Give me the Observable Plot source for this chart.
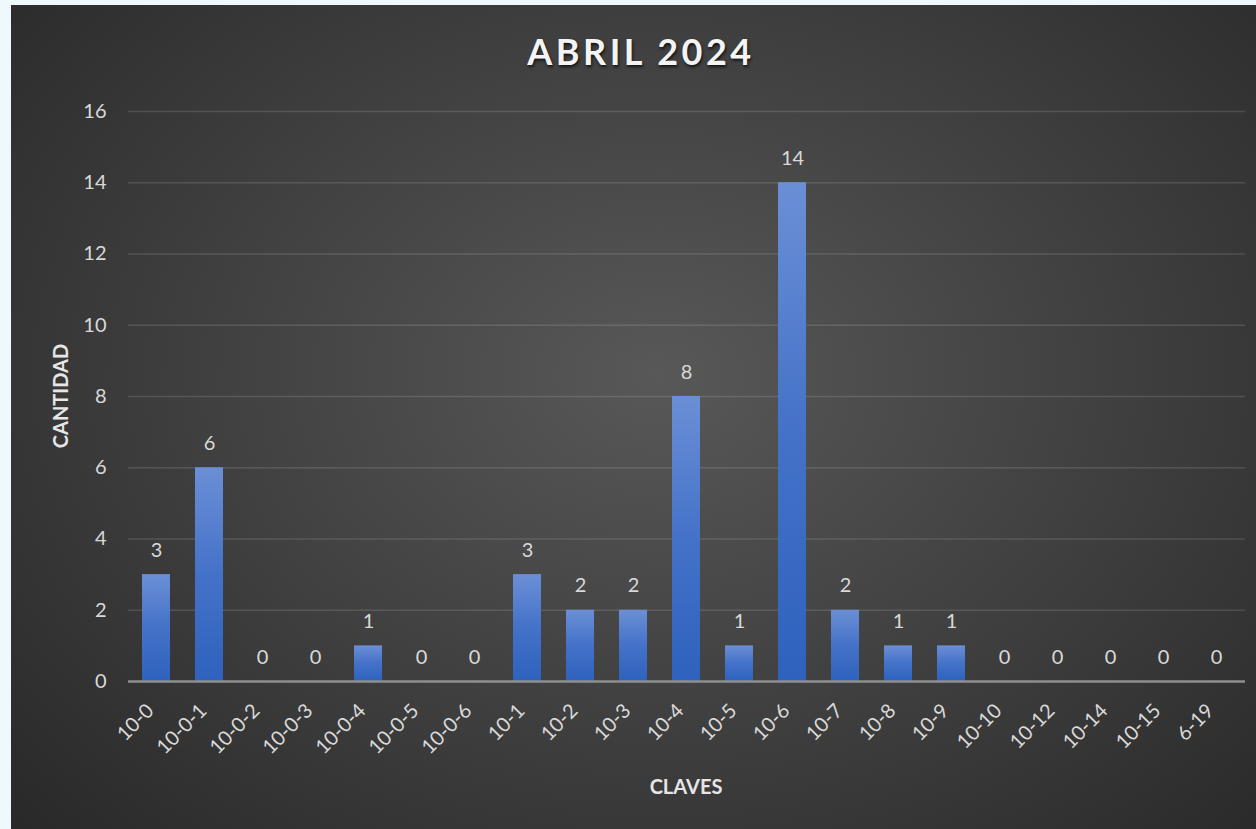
<!DOCTYPE html>
<html><head><meta charset="utf-8">
<script src="https://cdn.jsdelivr.net/npm/d3@7"></script>
<script src="https://cdn.jsdelivr.net/npm/@observablehq/plot@0.6"></script>
<style>
html,body{margin:0;padding:0;background:#eef8fd;width:1256px;height:829px;overflow:hidden;}
#frame{position:absolute;left:11px;top:5px;width:1245px;height:824px;
  background:radial-gradient(ellipse 75% 85% at 52% 45%, #585858 0%, #3f3f3f 50%, #262626 100%);
  font-family:Lato,"Open Sans",sans-serif;}
#title{position:absolute;left:0;width:1260px;top:24px;text-align:center;color:#f4f4f4;font-weight:700;
  font-size:36px;letter-spacing:3.5px;text-shadow:1px 2px 3px rgba(0,0,0,0.7);}
#ylab{position:absolute;left:49px;top:391px;transform:translate(-50%,-50%) rotate(-90deg);color:#e6e6e6;font-weight:700;font-size:20px;white-space:nowrap;}
#xlab{position:absolute;left:675px;top:781px;transform:translate(-50%,-50%);color:#e6e6e6;font-weight:700;font-size:20px;}
#chart{position:absolute;left:0;top:0;}
#chart svg text{font-size:20px;}
</style></head>
<body>
<div id="frame">
  <div id="chart"></div>
  <div id="title">ABRIL 2024</div>
  <div id="ylab">CANTIDAD</div>
  <div id="xlab">CLAVES</div>
</div>
<script>
const categories = ["10-0","10-0-1","10-0-2","10-0-3","10-0-4","10-0-5","10-0-6","10-1","10-2","10-3","10-4","10-5","10-6","10-7","10-8","10-9","10-10","10-12","10-14","10-15","6-19"];
const values = [3,6,0,0,1,0,0,3,2,2,8,1,14,2,1,1,0,0,0,0,0];
const yTicks = [0,2,4,6,8,10,12,14,16];

const data = categories.map((c,i)=>({clave:c, cantidad:values[i]}));
const txt = "#d9d9d9";
const fs = 20;

const plot = Plot.plot({
  width:1245, height:824,
  marginLeft:117, marginRight:11, marginTop:106, marginBottom:148,
  style:{background:"transparent", fontFamily:"Lato, 'Open Sans', sans-serif", fontSize:fs+"px", color:txt},
  x:{domain:categories, paddingInner:0.47, paddingOuter:0.235, label:null},
  y:{domain:[0,16], label:null},
  marks:[
    Plot.ruleY(yTicks.filter(d=>d>0), {stroke:"#ffffff", strokeOpacity:0.13, strokeWidth:1.5}),
    Plot.barY(data, {x:"clave", y:"cantidad", fill:"url(#barGrad)", style:"filter:drop-shadow(1px 1px 2px rgba(0,0,0,0.5))"}),
    Plot.ruleY([0], {stroke:"#8f8f8f", strokeWidth:2.5}),
    Plot.text(data, {x:"clave", y:"cantidad", text:d=>String(d.cantidad), dy:-18, lineAnchor:"bottom", fill:txt, fontSize:fs}),
    Plot.axisY({ticks:yTicks, tickSize:0, tickPadding:22, tickFormat:d=>String(d), fill:txt, fontSize:fs, label:null}),
    Plot.axisX({tickSize:0, tickPadding:26, dx:-6, tickRotate:-45, fill:txt, fontSize:fs, label:null})
  ]
});

const svg = d3.select(plot);
svg.selectAll("g").filter(function(){ return this.hasAttribute("font-size"); }).attr("font-size", fs);
const defs = svg.insert("defs", ":first-child");
const g = defs.append("linearGradient").attr("id","barGrad").attr("x1",0).attr("y1",0).attr("x2",0).attr("y2",1);
g.append("stop").attr("offset","0%").attr("stop-color","#6b8fd6");
g.append("stop").attr("offset","50%").attr("stop-color","#4472c8");
g.append("stop").attr("offset","100%").attr("stop-color","#2e62bd");

document.getElementById("chart").appendChild(plot);
</script>
</body></html>
